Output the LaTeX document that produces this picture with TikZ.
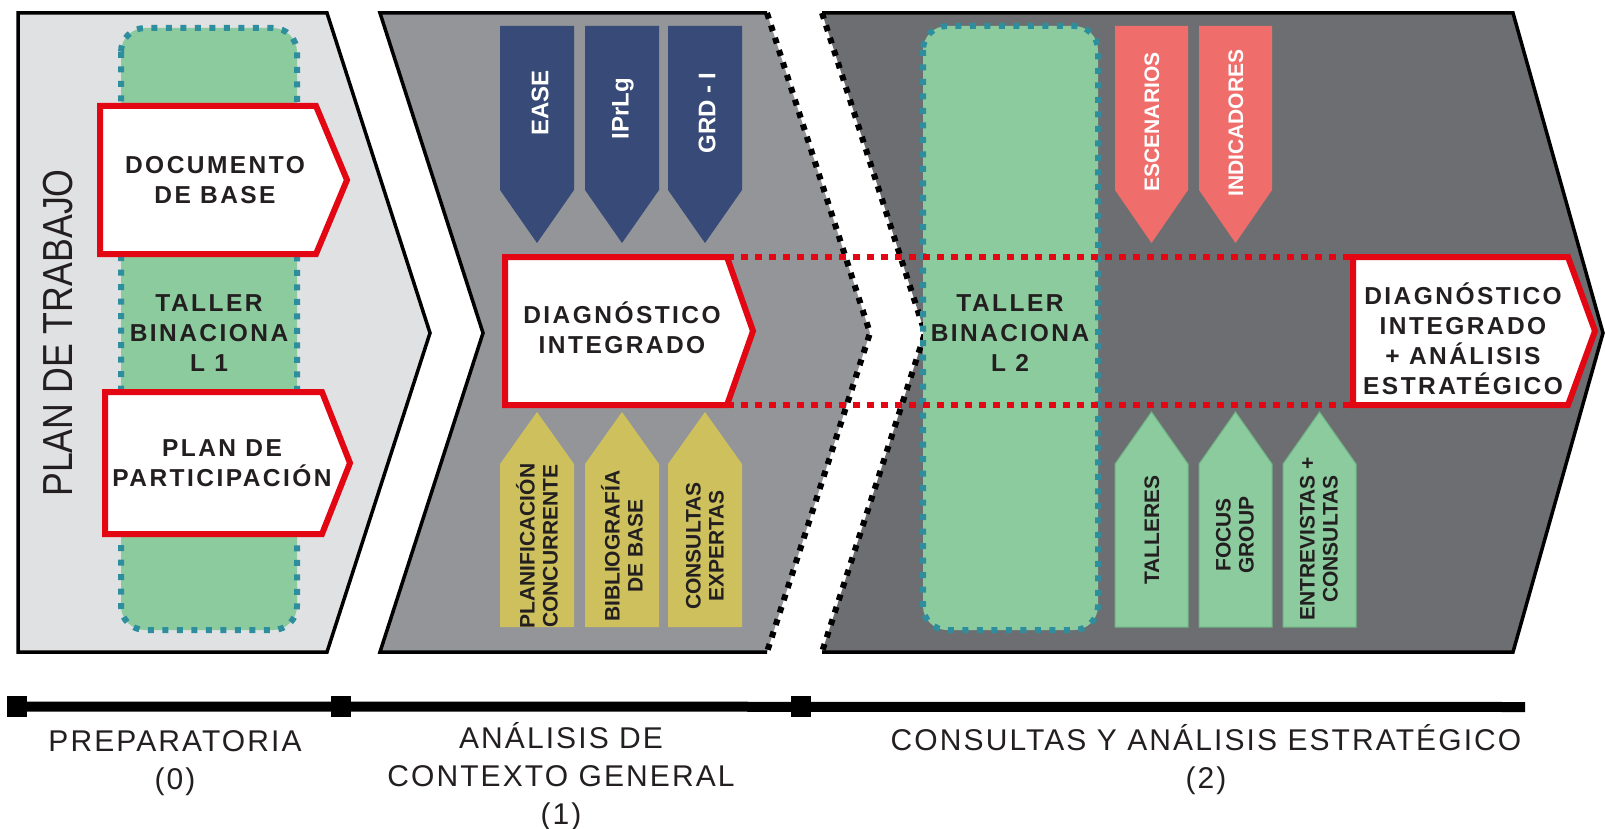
\documentclass[tikz,border=0pt]{standalone}
\usepackage{fontspec}
\setmainfont{Liberation Sans}
\newfontfamily\boxfont[LetterSpace=10]{Liberation Sans}
\newfontfamily\phasefont[LetterSpace=7]{Liberation Sans}
\newfontfamily\narrowfont[FakeStretch=0.85]{Liberation Sans}
\usetikzlibrary{shapes}

\definecolor{pone}{HTML}{E0E1E2}
\definecolor{ptwo}{HTML}{939598}
\definecolor{pthree}{HTML}{6D6E71}
\definecolor{leaf}{HTML}{8CCB9E}
\definecolor{leafline}{HTML}{6FB585}
\definecolor{tealdot}{HTML}{2F8E9E}
\definecolor{navy}{HTML}{384A77}
\definecolor{olive}{HTML}{CEC15D}
\definecolor{salmon}{HTML}{EF6E6B}
\definecolor{redline}{HTML}{E30613}
\definecolor{ink}{HTML}{231F20}

\begin{document}
\begin{tikzpicture}[x=1pt,y=-1pt]
            \tikzstyle{panel}=[draw=black,line width=3.5pt]
            \tikzstyle{cut}=[draw=black,line width=6pt,dash pattern=on 6pt off 7pt]   % open phase border
            \tikzstyle{taller}=[fill=leaf,draw=tealdot,line width=6pt,dash pattern=on 6pt off 8.5pt,rounded corners=24pt]
            \tikzstyle{redbox}=[draw=redline,fill=white,line width=6pt]
            \tikzstyle{reddots}=[draw=redline,line width=6pt,dash pattern=on 6.5pt off 7.5pt]
            \tikzstyle{boxtext}=[font=\boxfont\bfseries\fontsize{24.5}{30}\selectfont,align=center,text=ink,inner sep=0pt]
            \tikzstyle{tag}=[rotate=90,align=center,inner sep=0pt,font=\bfseries\fontsize{21}{23}\selectfont,text=ink]
            \tikzstyle{phase}=[font=\phasefont\fontsize{30}{38}\selectfont,align=center,text=ink,inner sep=0pt]
            \tikzstyle{tick}=[rectangle,fill=black,minimum width=20pt,minimum height=21pt,inner sep=0pt]

            \useasboundingbox (0,0) rectangle (1605,829);
            \clip (0,0) rectangle (1605,829);

            % phase panels
            \draw[panel,fill=pone] (18,13) -- (327,13) -- (430,333) -- (327,652) -- (18,652) -- cycle;
            \fill[ptwo] (380,13) -- (767,13) -- (870,333) -- (767,652) -- (380,652) -- (483,333) -- cycle;
            \draw[panel] (767,13) -- (380,13) -- (483,333) -- (380,652) -- (767,652);
            \draw[cut] (767,13) -- (870,333) -- (767,652);
            \fill[pthree] (822,13) -- (1513,13) -- (1603,333) -- (1513,652) -- (822,652) -- (925,333) -- cycle;
            \draw[panel] (822,13) -- (1513,13) -- (1603,333) -- (1513,652) -- (822,652);
            \draw[cut] (822,13) -- (925,333) -- (822,652);

            % workshops
            \draw[taller] (121,28) rectangle (297,630);
            \draw[taller] (923,26) rectangle (1098,630);
            \node[boxtext] (t1) at (209,333) {TALLER\\BINACIONA\\L 1};
            \node[boxtext] (t2) at (1010,333) {TALLER\\BINACIONA\\L 2};

            % inputs, phase 1
            \fill[navy] (500,26) -- (574,26) -- (574,190) -- (537,243) -- (500,190) -- cycle;
            \fill[navy] (585,26) -- (659,26) -- (659,190) -- (622,243) -- (585,190) -- cycle;
            \fill[navy] (668,26) -- (742,26) -- (742,190) -- (705,243) -- (668,190) -- cycle;
            \node[tag,text=white,font=\bfseries\fontsize{24}{26}\selectfont] (ease) at (540,103) {EASE};
            \node[tag,text=white,font=\bfseries\fontsize{24}{26}\selectfont] (iprlg) at (623,109) {IPrLg};
            \node[tag,text=white,font=\bfseries\fontsize{24}{26}\selectfont] (grd) at (707,113) {GRD - I};

            \fill[olive] (500,627) -- (500,464) -- (537,412) -- (574,464) -- (574,627) -- cycle;
            \fill[olive] (585,627) -- (585,464) -- (622,412) -- (659,464) -- (659,627) -- cycle;
            \fill[olive] (668,627) -- (668,464) -- (705,412) -- (742,464) -- (742,627) -- cycle;
            \node[tag] (plan) at (537,546) {PLANIFICACIÓN\\CONCURRENTE};
            \node[tag] (biblio) at (622,546) {BIBLIOGRAFÍA\\DE BASE};
            \node[tag] (expert) at (705,546) {CONSULTAS\\EXPERTAS};

            % inputs, phase 2
            \fill[salmon] (1115,26) -- (1188,26) -- (1188,190) -- (1151.5,243) -- (1115,190) -- cycle;
            \fill[salmon] (1199,26) -- (1272,26) -- (1272,190) -- (1235.5,243) -- (1199,190) -- cycle;
            \node[tag,text=white] (esc) at (1152,122) {ESCENARIOS};
            \node[tag,text=white] (ind) at (1236,123) {INDICADORES};

            \draw[fill=leaf,draw=leafline,line width=1pt] (1115,627) -- (1115,464) -- (1151.5,412) -- (1188,464) -- (1188,627) -- cycle;
            \draw[fill=leaf,draw=leafline,line width=1pt] (1199,627) -- (1199,464) -- (1235.5,412) -- (1272,464) -- (1272,627) -- cycle;
            \draw[fill=leaf,draw=leafline,line width=1pt] (1283,627) -- (1283,464) -- (1319.5,412) -- (1356,464) -- (1356,627) -- cycle;
            \node[tag] (tall) at (1152,530) {TALLERES};
            \node[tag] (focus) at (1235,535) {FOCUS\\GROUP};
            \node[tag] (entre) at (1319,539) {ENTREVISTAS +\\CONSULTAS};

            % results
            \coordinate (dA ne) at (727,257);
            \coordinate (dA se) at (727,405);
            \coordinate (dB nw) at (1353,257);
            \coordinate (dB sw) at (1353,405);
            \draw[reddots] (dA ne) -- (dB nw);
            \draw[reddots] (dA se) -- (dB sw);

            \draw[redbox] (100,106) -- (316,106) -- (347,180) -- (316,254) -- (100,254) -- cycle;
            \node[boxtext] (doc) at (215,180) {DOCUMENTO\\DE BASE};
            \draw[redbox] (105,392) -- (322,392) -- (350,463) -- (322,534) -- (105,534) -- cycle;
            \node[boxtext] (part) at (222,463) {PLAN DE\\PARTICIPACIÓN};
            \draw[redbox] (505,257) -- (dA ne) -- (753,331) -- (dA se) -- (505,405) -- cycle;
            \node[boxtext] (diagA) at (622,328) {DIAGNÓSTICO\\INTEGRADO};
            \draw[redbox] (dB nw) -- (1568,257) -- (1595,331) -- (1568,405) -- (dB sw) -- cycle;
            \node[boxtext] (diagB) at (1463,339) {DIAGNÓSTICO\\INTEGRADO\\+ ANÁLISIS\\ESTRATÉGICO};

            \node[rotate=90,inner sep=0pt,text=ink,font=\narrowfont\fontsize{42}{44}\selectfont] (work) at (58,333) {PLAN DE TRABAJO};

            % time line
            \node[tick] (m0) at (17,706.5) {};
            \node[tick] (m1) at (341,706.5) {};
            \node[tick] (m2) at (801,706.5) {};
            \coordinate (mend) at (1525,707);
            \draw[line width=10pt] (m0.center) -- (mend);
            \node[phase] (ph0) at (175,763) {PREPARATORIA\\(0)};
            \node[phase] (ph1) at (561,777) {ANÁLISIS DE\\CONTEXTO GENERAL\\(1)};
            \node[phase] (ph2) at (1206,760) {CONSULTAS Y ANÁLISIS ESTRATÉGICO\\(2)};
\end{tikzpicture}
\end{document}
